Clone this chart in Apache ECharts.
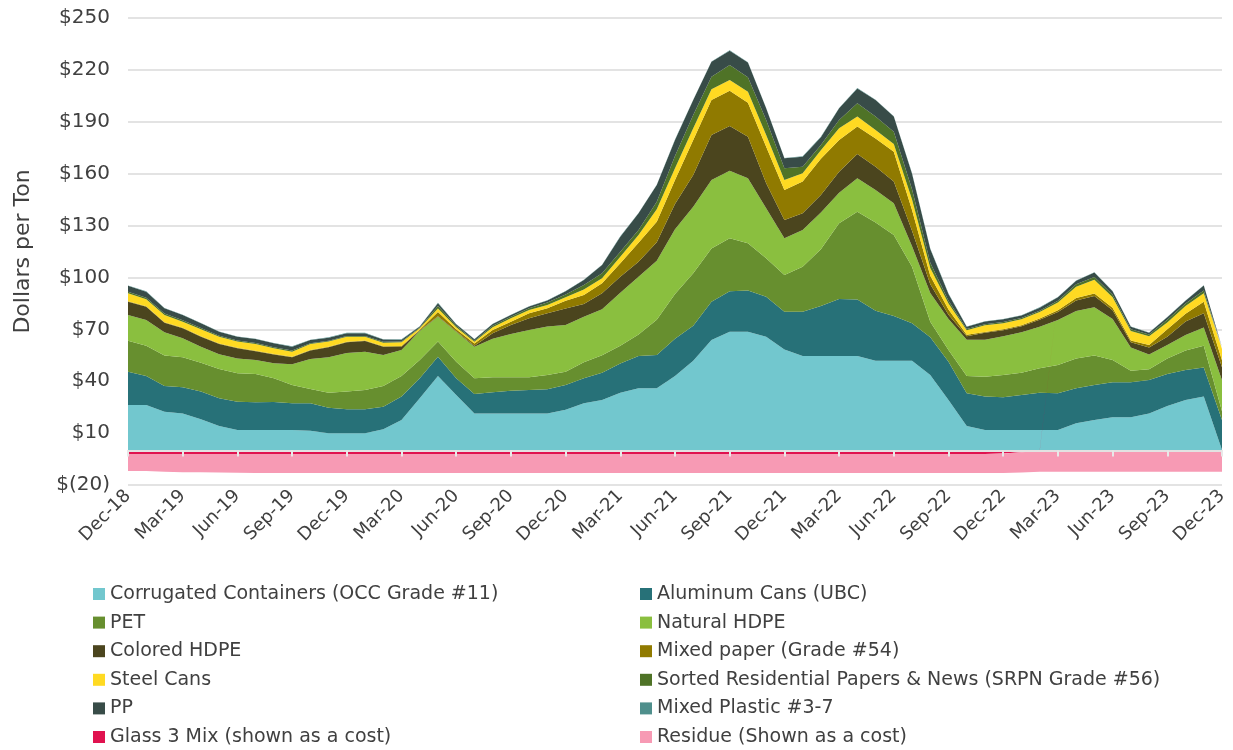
<!DOCTYPE html>
<html>
<head>
<meta charset="utf-8">
<title>Commodity value per ton</title>
<script src="https://cdn.jsdelivr.net/npm/echarts/dist/echarts.min.js"></script>
<style>
  html, body { margin: 0; padding: 0; background: #fff; }
  #graph1 { width: 1233px; height: 750px; }
</style>
</head>
<body>
<div id="graph1"></div>
<script>
// months Dec-18 .. Dec-23
var months = ['Dec-18', 'Jan-19', 'Feb-19', 'Mar-19', 'Apr-19', 'May-19', 'Jun-19', 'Jul-19', 'Aug-19', 'Sep-19',
  'Oct-19', 'Nov-19', 'Dec-19', 'Jan-20', 'Feb-20', 'Mar-20', 'Apr-20', 'May-20', 'Jun-20', 'Jul-20',
  'Aug-20', 'Sep-20', 'Oct-20', 'Nov-20', 'Dec-20', 'Jan-21', 'Feb-21', 'Mar-21', 'Apr-21', 'May-21',
  'Jun-21', 'Jul-21', 'Aug-21', 'Sep-21', 'Oct-21', 'Nov-21', 'Dec-21', 'Jan-22', 'Feb-22', 'Mar-22',
  'Apr-22', 'May-22', 'Jun-22', 'Jul-22', 'Aug-22', 'Sep-22', 'Oct-22', 'Nov-22', 'Dec-22', 'Jan-23',
  'Feb-23', 'Mar-23', 'Apr-23', 'May-23', 'Jun-23', 'Jul-23', 'Aug-23', 'Sep-23', 'Oct-23', 'Nov-23',
  'Dec-23'];

var occ = [26.3, 26.3, 22.4, 21.4, 18.0, 14.1, 11.8, 11.8, 11.8, 11.8,
  11.4, 9.9, 9.9, 9.9, 12.2, 17.6, 30.1, 43.0, 32.0, 21.4,
  21.4, 21.4, 21.4, 21.4, 23.5, 27.2, 29.1, 33.4, 35.9, 35.9,
  43.0, 51.8, 63.8, 68.6, 68.6, 65.7, 58.4, 54.6, 54.6, 54.6,
  54.6, 51.9, 51.9, 51.9, 43.6, 29.1, 14.1, 11.8, 11.8, 11.8,
  11.8, 11.8, 15.7, 17.6, 19.1, 19.1, 21.4, 25.7, 29.1, 31.1,
  0.3];
var aluminum = [19.2, 16.7, 14.8, 15.1, 16.0, 16.0, 16.4, 16.0, 16.2, 15.4,
  15.8, 14.8, 13.9, 13.9, 13.1, 13.5, 11.6, 11.2, 9.7, 11.2,
  12.2, 13.1, 13.5, 13.9, 14.3, 14.5, 15.8, 16.9, 18.7, 19.3,
  21.5, 20.2, 22.2, 23.4, 23.9, 23.2, 21.8, 25.6, 28.9, 32.9,
  32.7, 28.9, 25.8, 21.6, 21.8, 22.2, 18.9, 19.3, 18.9, 20.2,
  21.6, 21.2, 20.2, 20.2, 20.3, 20.3, 19.3, 18.5, 17.4, 16.9,
  17.3];
var pet = [17.9, 17.5, 17.6, 17.3, 16.7, 17.0, 16.4, 16.4, 13.7, 10.6,
  8.3, 8.7, 10.2, 11.1, 11.9, 11.9, 10.6, 8.7, 9.6, 9.1,
  8.7, 7.8, 7.4, 8.3, 7.7, 9.3, 10.1, 10.2, 12.4, 20.3,
  26.0, 30.4, 30.8, 30.6, 27.2, 22.2, 21.2, 26.0, 32.8, 43.8,
  50.7, 50.9, 46.8, 32.7, 9.0, 6.7, 10.0, 11.5, 12.9, 12.9,
  14.1, 16.4, 17.3, 17.0, 12.9, 6.7, 6.2, 9.0, 11.2, 12.5,
  5.0];
var naturalHdpe = [14.9, 14.9, 13.5, 11.0, 9.3, 8.5, 8.6, 8.1, 8.7, 12.0,
  17.3, 20.4, 22.3, 22.2, 18.0, 15.0, 16.7, 14.4, 17.3, 18.3,
  22.2, 25.0, 27.3, 28.0, 27.0, 26.3, 26.6, 30.7, 33.4, 34.2,
  37.3, 38.5, 39.5, 39.1, 37.6, 28.9, 21.2, 21.2, 21.2, 17.7,
  19.3, 18.8, 18.4, 11.8, 16.6, 18.0, 21.0, 21.4, 22.4, 23.4,
  24.0, 26.0, 27.4, 27.9, 23.7, 13.4, 8.6, 7.8, 9.0, 10.5,
  18.0];
var coloredHdpe = [7.7, 7.7, 5.5, 5.8, 5.7, 5.9, 5.8, 5.0, 5.1, 4.0,
  5.0, 5.8, 6.2, 6.1, 4.8, 2.0, 0.3, 0.3, 0.3, 0.5,
  3.2, 5.2, 6.8, 7.7, 9.5, 7.3, 9.2, 9.2, 8.7, 10.6,
  14.7, 18.3, 26.1, 25.9, 24.1, 14.4, 10.6, 9.7, 10.2, 12.1,
  14.1, 13.5, 12.5, 9.0, 5.0, 2.5, 2.0, 4.0, 3.5, 3.5,
  4.0, 4.6, 6.0, 6.5, 5.0, 3.0, 4.0, 4.7, 7.8, 8.3,
  7.5];
var mixedPaper = [0.3, 0.3, 0.3, 0.3, 0.3, 0.3, 0.3, 0.3, 0.3, 0.3,
  0.3, 0.3, 0.3, 0.3, 0.2, 0.3, 0.5, 2.4, 1.1, 1.3,
  1.9, 1.9, 2.9, 2.9, 4.5, 5.2, 5.8, 7.8, 11.0, 11.9,
  13.8, 20.3, 20.2, 20.4, 19.6, 21.2, 17.3, 18.3, 20.9, 18.4,
  15.8, 16.4, 17.3, 12.0, 5.0, 3.0, 0.8, 0.5, 0.5, 0.5,
  0.7, 1.0, 1.5, 1.5, 1.5, 1.0, 1.5, 4.3, 4.5, 6.7,
  4.0];
var steelCans = [4.5, 4.0, 4.2, 3.5, 4.0, 3.9, 3.6, 3.9, 3.2, 3.0,
  3.4, 3.0, 2.9, 2.2, 2.1, 2.2, 0.8, 2.0, 1.2, 1.0,
  1.6, 2.0, 1.9, 1.9, 2.1, 3.3, 2.9, 3.8, 4.4, 7.2,
  6.8, 6.7, 6.2, 6.2, 6.4, 6.8, 5.8, 4.8, 5.0, 6.7,
  5.8, 4.8, 4.4, 6.0, 4.5, 3.5, 2.7, 3.8, 3.5, 3.5,
  3.8, 4.5, 6.5, 8.0, 6.0, 5.5, 5.0, 4.0, 4.5, 4.8,
  6.5];
var srpn = [0.9, 0.9, 0.8, 0.8, 0.7, 0.6, 0.6, 0.6, 0.6, 0.6,
  0.5, 0.5, 0.5, 0.5, 0.5, 0.4, 0.4, 1.5, 0.8, 0.6,
  0.8, 0.9, 1.0, 1.4, 1.6, 2.5, 2.9, 2.9, 2.9, 4.4,
  7.1, 7.7, 7.3, 8.6, 8.3, 8.6, 6.8, 3.8, 3.0, 4.8,
  7.7, 7.8, 7.2, 6.0, 3.0, 1.5, 0.7, 0.7, 0.7, 0.7,
  0.8, 1.0, 1.5, 1.5, 1.5, 1.0, 1.0, 1.5, 1.5, 1.7,
  0.5];
var pp = [3.5, 3.5, 3.1, 3.1, 2.8, 2.3, 2.2, 2.3, 2.3, 2.3,
  1.8, 1.8, 1.6, 1.6, 1.3, 1.1, 0.6, 1.6, 0.9, 0.8,
  1.1, 1.0, 1.0, 1.1, 1.8, 2.9, 4.8, 8.7, 9.7, 9.6,
  9.3, 8.7, 8.6, 8.3, 8.5, 6.8, 5.8, 5.8, 4.5, 6.8,
  8.6, 9.6, 8.7, 9.0, 8.0, 4.0, 1.3, 1.5, 1.6, 1.5,
  1.7, 2.0, 2.0, 2.6, 2.0, 1.5, 1.0, 1.5, 1.5, 2.8,
  0.5];
var mixedPlastic = [0.2, 0.2, 0.2, 0.2, 0.2, 0.2, 0.2, 0.2, 0.2, 0.2,
  0.2, 0.2, 0.2, 0.2, 0.2, 0.2, 0.2, 0.2, 0.2, 0.2,
  0.2, 0.2, 0.2, 0.2, 0.2, 0.2, 0.2, 0.2, 0.2, 0.2,
  0.2, 0.2, 0.2, 0.2, 0.2, 0.2, 0.2, 0.2, 0.2, 0.2,
  0.2, 0.2, 0.2, 0.2, 0.2, 0.2, 0.2, 0.2, 0.2, 0.2,
  0.2, 0.2, 0.2, 0.2, 0.2, 0.2, 0.2, 0.2, 0.2, 0.2,
  0.2];
// costs, below zero
var glass = [-2.1, -2.1, -2.1, -2.1, -2.1, -2.1, -2.1, -2.1, -2.1, -2.1,
  -2.1, -2.1, -2.1, -2.1, -2.1, -2.1, -2.1, -2.1, -2.1, -2.1,
  -2.1, -2.1, -2.1, -2.1, -2.1, -2.1, -2.1, -2.1, -2.1, -2.1,
  -2.1, -2.1, -2.1, -2.1, -2.1, -2.1, -2.1, -2.1, -2.1, -2.1,
  -2.1, -2.1, -2.1, -2.1, -2.1, -2.1, -2.1, -2.1, -1.8, -1.1,
  -0.4, 0, 0, 0, 0, 0, 0, 0, 0, 0,
  0];
var residue = [-9.8, -9.8, -10.2, -10.5, -10.6, -10.7, -10.8, -10.9, -11.0, -11.0,
  -11.0, -11.0, -11.0, -11.0, -11.0, -11.0, -11.0, -11.0, -11.0, -11.0,
  -11.0, -11.0, -11.0, -11.0, -11.0, -11.0, -11.0, -11.0, -11.0, -11.0,
  -11.0, -11.0, -11.0, -11.0, -11.0, -11.0, -11.0, -11.0, -11.0, -11.0,
  -11.0, -11.0, -11.0, -11.0, -11.0, -11.0, -11.0, -11.0, -11.3, -11.7,
  -12.0, -12.3, -12.3, -12.3, -12.3, -12.3, -12.3, -12.3, -12.3, -12.3,
  -12.3];

var yTicks = { min: -20, max: 250, step: 30 };

var layers = [
  { name: 'Corrugated Containers (OCC Grade #11)', data: occ, color: '#72C7CE' },
  { name: 'Aluminum Cans (UBC)', data: aluminum, color: '#277178' },
  { name: 'PET', data: pet, color: '#678F2F' },
  { name: 'Natural HDPE', data: naturalHdpe, color: '#8ABF3F' },
  { name: 'Colored HDPE', data: coloredHdpe, color: '#4B451E' },
  { name: 'Mixed paper (Grade #54)', data: mixedPaper, color: '#907A00' },
  { name: 'Steel Cans', data: steelCans, color: '#FFDA22' },
  { name: 'Sorted Residential Papers & News (SRPN Grade #56)', data: srpn, color: '#4F7327' },
  { name: 'PP', data: pp, color: '#384C48' },
  { name: 'Mixed Plastic #3-7', data: mixedPlastic, color: '#4F8F8C' },
  { name: 'Glass 3 Mix (shown as a cost)', data: glass, color: '#E0124F' },
  { name: 'Residue (Shown as a cost)', data: residue, color: '#F79AB4' }
];

var font = 'DejaVu Sans';
var textColor = '#404040';

var series = layers.map(function (l) {
  return {
    name: l.name,
    type: 'line',
    stack: 'total',
    data: l.data,
    symbol: 'none',
    smooth: false,
    lineStyle: { width: 0 },
    areaStyle: { color: l.color, opacity: 1 },
    itemStyle: { color: l.color },
    emphasis: { disabled: true },
    silent: true,
    animation: false
  };
});

// legend in two columns, filled row by row
var leftNames = [], rightNames = [];
layers.forEach(function (l, i) {
  (i % 2 === 0 ? leftNames : rightNames).push(l.name);
});
var legendBase = {
  orient: 'vertical',
  top: 584,
  height: 170,
  padding: 0,
  icon: 'rect',
  itemWidth: 12,
  itemHeight: 12,
  itemGap: 8.6,
  selectedMode: false,
  textStyle: { fontFamily: font, fontSize: 19, color: textColor, lineHeight: 20 }
};

var myChart = echarts.init(document.getElementById('graph1'));
myChart.setOption({
  backgroundColor: '#fff',
  animation: false,
  grid: { left: 128, right: 11, top: 18, bottom: 265 },
  legend: [
    Object.assign({}, legendBase, { left: 93, data: leftNames }),
    Object.assign({}, legendBase, { left: 640, data: rightNames })
  ],
  xAxis: [
    {
      // labels along the bottom
      type: 'category',
      data: months,
      boundaryGap: false,
      position: 'bottom',
      axisLine: { show: false, onZero: false },
      axisTick: { show: false },
      axisLabel: {
        interval: 2,
        rotate: 45,
        margin: 8,
        fontFamily: font,
        fontSize: 18,
        color: textColor
      }
    },
    {
      // axis line and ticks sitting on zero
      type: 'category',
      data: months,
      boundaryGap: false,
      position: 'top',
      z: 10,
      axisLine: { show: true, onZero: true, lineStyle: { color: '#e2e2e2', width: 2 } },
      axisTick: { show: true, interval: 2, inside: true, length: 6, lineStyle: { color: '#e8e8e8', width: 2 } },
      axisLabel: { show: false }
    }
  ],
  yAxis: {
    type: 'value',
    min: yTicks.min,
    max: yTicks.max,
    interval: yTicks.step,
    name: 'Dollars per Ton',
    nameLocation: 'middle',
    nameGap: 94,
    nameTextStyle: { fontFamily: font, fontSize: 22, color: textColor },
    axisLine: { show: false },
    axisTick: { show: false },
    axisLabel: {
      margin: 18,
      fontFamily: font,
      fontSize: 20,
      color: textColor,
      formatter: function (v) {
        return v < 0 ? '$(' + (-v) + ')' : '$' + v;
      }
    },
    splitLine: { lineStyle: { color: '#e3e3e3', width: 2 } }
  },
  series: series
});
</script>
</body>
</html>
